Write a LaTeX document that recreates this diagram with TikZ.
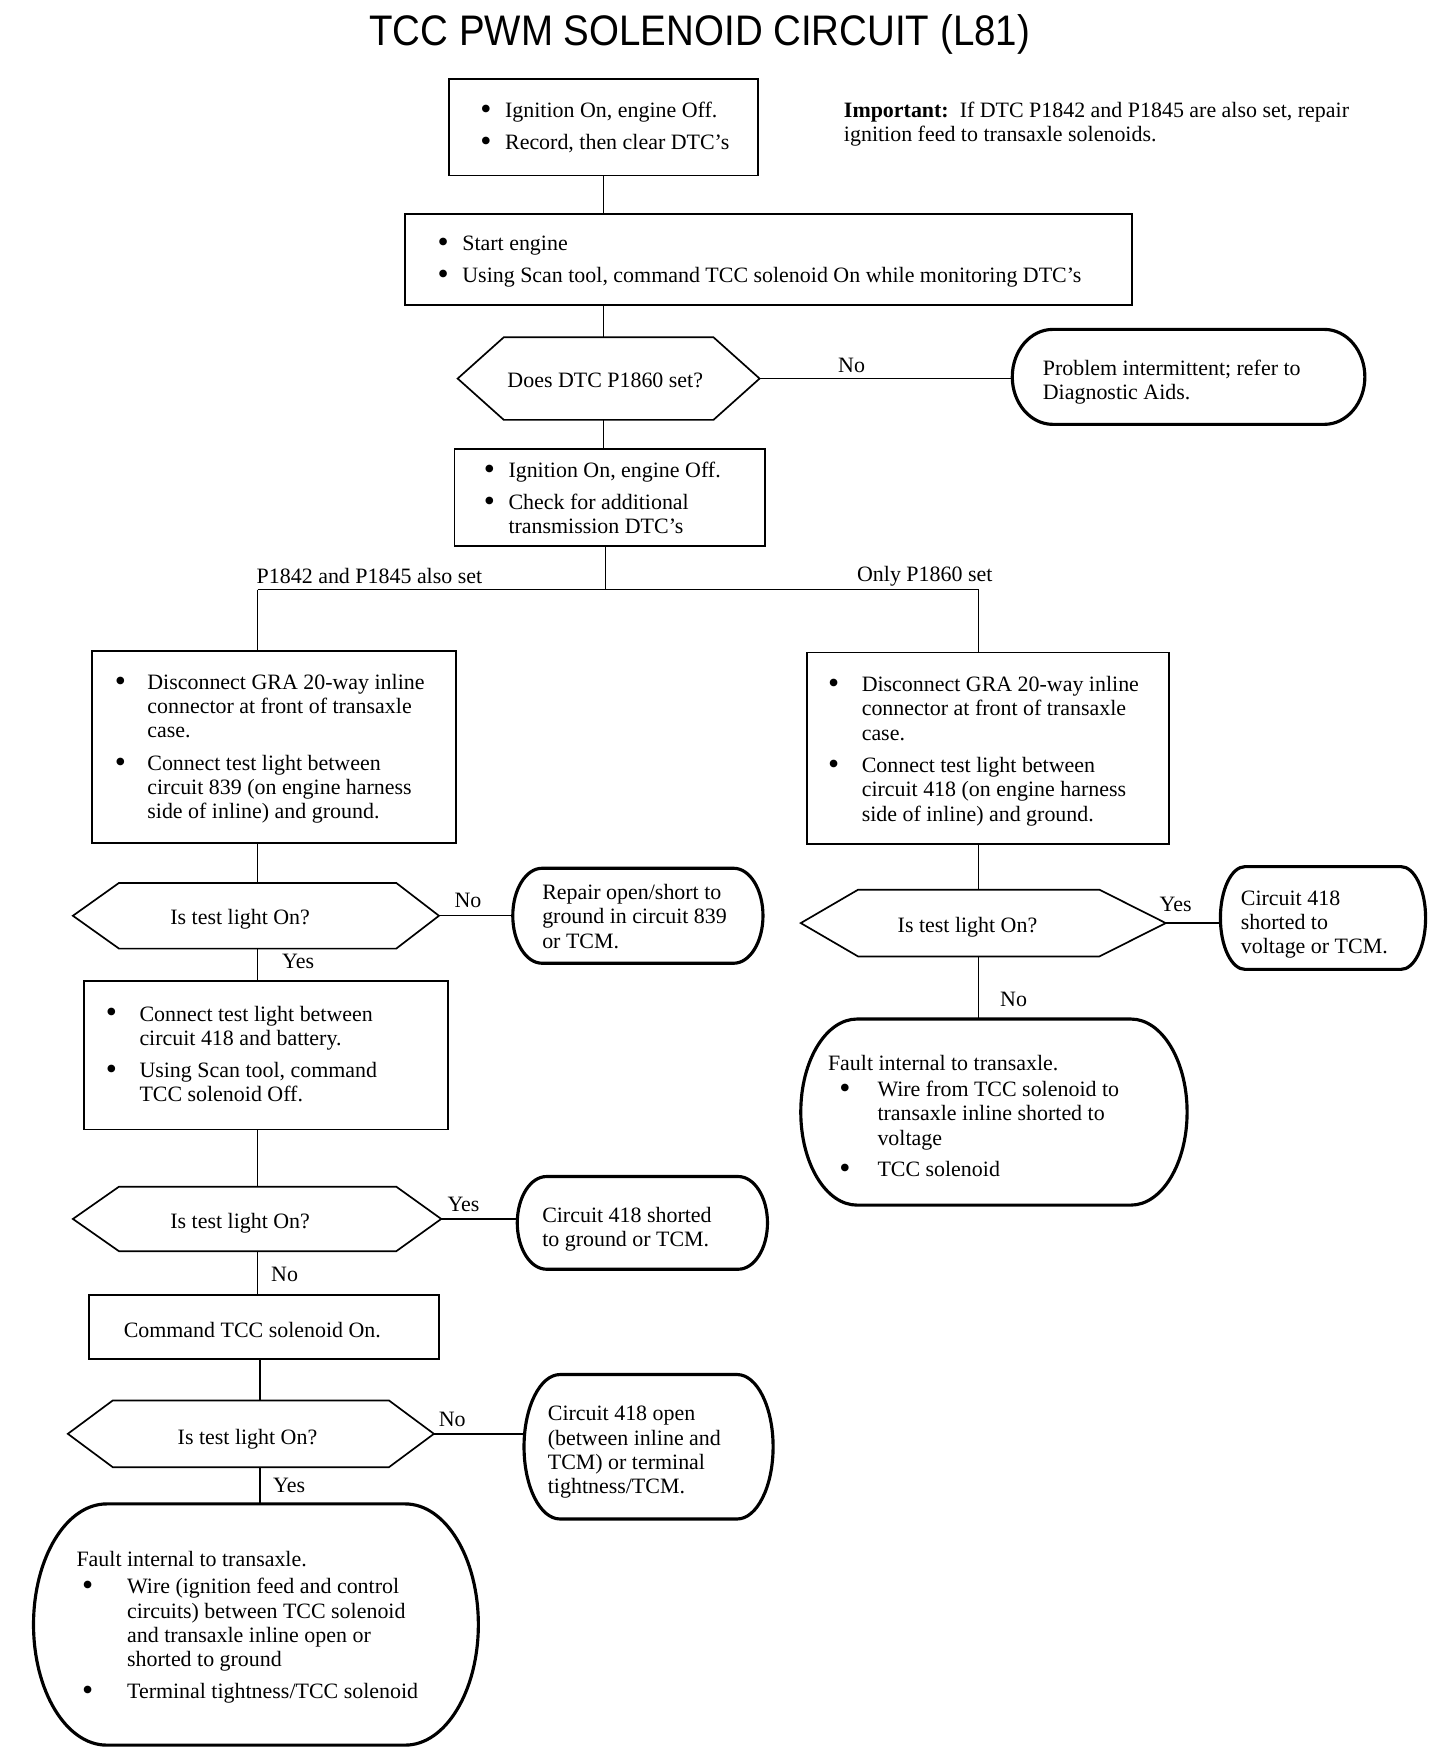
\documentclass[tikz,border=0pt]{standalone}
\usepackage{graphicx}
\usepackage{fontspec}
\setmainfont{Liberation Serif}[Ligatures=TeX]
\newfontfamily\titlefont{Liberation Sans}
\usetikzlibrary{calc}
\newcommand\bodyfont{\fontsize{19.5pt}{21.5pt}\selectfont}
\newcommand\bul{\raisebox{-0.09em}{\scalebox{1.45}{\textbullet}}}
% lower the content of a node by #1 pt without changing its size
\newcommand\dn[2]{\raisebox{-#1pt}[\height][\depth]{#2}}
% outline of a stadium-like node: #1 name, #2 end bulge
\newcommand\stadout[2]{%
  \draw[stadline] ($(#1.north west)+(#2,0)$) -- ($(#1.north east)+(-#2,0)$)
    .. controls ($(#1.north east)+(-0.4477*#2,0)$) and ($(#1.east)!0.5523!(#1.north east)$) .. (#1.east)
    .. controls ($(#1.east)!0.5523!(#1.south east)$) and ($(#1.south east)+(-0.4477*#2,0)$) .. ($(#1.south east)+(-#2,0)$)
    -- ($(#1.south west)+(#2,0)$)
    .. controls ($(#1.south west)+(0.4477*#2,0)$) and ($(#1.west)!0.5523!(#1.south west)$) .. (#1.west)
    .. controls ($(#1.west)!0.5523!(#1.north west)$) and ($(#1.north west)+(0.4477*#2,0)$) .. cycle;}
% outline of a hexagon decision node: #1 name, #2 left tip, #3 right tip
\newcommand\hexout[3]{%
  \coordinate (#1-l) at ($(#1.west)+(-#2,0)$);
  \coordinate (#1-r) at ($(#1.east)+(#3,0)$);
  \draw[hexline] (#1.north west) -- (#1.north east) -- (#1-r) -- (#1.south east) -- (#1.south west) -- (#1-l) -- cycle;}
\begin{document}
\begin{tikzpicture}[x=1pt,y=-1pt,
  every node/.style={font=\bodyfont, inner sep=0pt},
  rectbox/.style={draw, line width=1.7pt},
  shapebox/.style={draw=none},
  conn/.style={line width=1.3pt},
  hexline/.style={line width=1.5pt, line join=miter},
  stadline/.style={line width=2.8pt},
  lbl/.style={}]
\fill[white] (0,0) rectangle (1294,1568);
\useasboundingbox (0,0) rectangle (1294,1568);

% title
\node (title) at (622,31) {\titlefont\fontsize{38pt}{40pt}\selectfont\scalebox{0.9}[1]{TCC PWM SOLENOID CIRCUIT (L81)}};

% important note
\node[lbl, anchor=west, align=left] (imp) at (750,110) {\textbf{Important:}\ \ If DTC P1842 and P1845 are also set, repair\\ignition feed to transaxle solenoids.};

% top chain
\node[rectbox, minimum width=275pt, minimum height=86pt] (b1) at (536.5,113)
  {\dn{1}{\makebox[219pt][l]{\begin{tabular}{@{}p{22pt}@{}l@{}}\bul & Ignition On, engine Off.\\[7pt]\bul & Record, then clear DTC's\end{tabular}}}};
\node[rectbox, minimum width=646pt, minimum height=81pt] (b2) at (683,230.5)
  {\dn{2}{\makebox[588pt][l]{\begin{tabular}{@{}p{22pt}@{}l@{}}\bul & Start engine\\[6.5pt]\bul & Using Scan tool, command TCC solenoid On while monitoring DTC's\end{tabular}}}};
\node[shapebox, minimum width=186pt, minimum height=73pt] (d1) at (541,336.5) {\dn{2}{\hspace*{-6pt}Does DTC P1860 set?}};
\hexout{d1}{41}{41}
\node[shapebox, minimum width=313pt, minimum height=84pt] (s1) at (1056.5,335)
  {\dn{5}{\makebox[259pt][l]{\begin{tabular}{@{}l@{}}Problem intermittent; refer to\\Diagnostic Aids.\end{tabular}}}};
\stadout{s1}{36}
\node[rectbox, minimum width=276pt, minimum height=86pt] (b3) at (542,442)
  {\dn{3}{\makebox[224pt][l]{\begin{tabular}{@{}p{22pt}@{}l@{}}\bul & Ignition On, engine Off.\\[6.5pt]\bul & Check for additional\\ & transmission DTC's\end{tabular}}}};

% left branch
\node[rectbox, minimum width=323pt, minimum height=170pt] (b4) at (243.5,664)
  {\dn{2}{\makebox[283pt][l]{\begin{tabular}{@{}p{29pt}@{}l@{}}\bul & Disconnect GRA 20-way inline\\ & connector at front of transaxle\\ & case.\\[7.5pt]\bul & Connect test light between\\ & circuit 839 (on engine harness\\ & side of inline) and ground.\end{tabular}}}};
\node[shapebox, minimum width=246pt, minimum height=58pt] (d2) at (229,814) {\dn{3}{\hspace*{-31pt}Is test light On?}};
\hexout{d2}{41}{38}
\node[shapebox, minimum width=222pt, minimum height=84pt] (s2) at (567,814)
  {\dn{3}{\makebox[170pt][l]{\begin{tabular}{@{}l@{}}Repair open/short to\\ground in circuit 839\\or TCM.\end{tabular}}}};
\stadout{s2}{26}
\node[rectbox, minimum width=323pt, minimum height=132pt] (b6) at (236.5,938)
  {\dn{1}{\makebox[285pt][l]{\begin{tabular}{@{}p{30pt}@{}l@{}}\bul & Connect test light between\\ & circuit 418 and battery.\\[7pt]\bul & Using Scan tool, command\\ & TCC solenoid Off.\end{tabular}}}};
\node[shapebox, minimum width=246pt, minimum height=57pt] (d3) at (229,1083.5) {\dn{4}{\hspace*{-31pt}Is test light On?}};
\hexout{d3}{41}{40}
\node[shapebox, minimum width=222pt, minimum height=82pt] (s3) at (571,1087)
  {\dn{6}{\makebox[178pt][l]{\begin{tabular}{@{}l@{}}Circuit 418 shorted\\to ground or TCM.\end{tabular}}}};
\stadout{s3}{26}
\node[rectbox, minimum width=311pt, minimum height=57pt] (b7) at (234.5,1179.5)
  {\dn{3}{\makebox[249pt][l]{Command TCC solenoid On.}}};
\node[shapebox, minimum width=245pt, minimum height=59pt] (d4) at (223,1274.5) {\dn{5}{\hspace*{-6pt}Is test light On?}};
\hexout{d4}{40}{40}
\node[shapebox, minimum width=221pt, minimum height=128pt] (s4) at (576.5,1286)
  {\dn{5}{\makebox[179pt][l]{\begin{tabular}{@{}l@{}}Circuit 418 open\\(between inline and\\TCM) or terminal\\tightness/TCM.\end{tabular}}}};
\stadout{s4}{32}
\node[shapebox, minimum width=395pt, minimum height=214pt] (s5) at (227.5,1444)
  {\dn{3}{\makebox[319pt][l]{\begin{tabular}{@{}p{45pt}@{}l@{}}\multicolumn{2}{@{}l@{}}{Fault internal to transaxle.}\\[2.5pt]\hspace*{5pt}\bul & Wire (ignition feed and control\\ & circuits) between TCC solenoid\\ & and transaxle inline open or\\ & shorted to ground\\[7pt]\hspace*{5pt}\bul & Terminal tightness/TCC solenoid\end{tabular}}}};
\stadout{s5}{65}

% right branch
\node[rectbox, minimum width=322pt, minimum height=170pt] (b5) at (878,665)
  {\dn{3}{\makebox[284pt][l]{\begin{tabular}{@{}p{30pt}@{}l@{}}\bul & Disconnect GRA 20-way inline\\ & connector at front of transaxle\\ & case.\\[7.5pt]\bul & Connect test light between\\ & circuit 418 (on engine harness\\ & side of inline) and ground.\end{tabular}}}};
\node[shapebox, minimum width=214pt, minimum height=59pt] (d5) at (870,820.5) {\dn{4}{\hspace*{-20pt}Is test light On?}};
\hexout{d5}{51}{59}
\node[shapebox, minimum width=182pt, minimum height=91pt] (s6) at (1176,816)
  {\dn{6}{\makebox[146pt][l]{\begin{tabular}{@{}l@{}}Circuit 418\\shorted to\\voltage or TCM.\end{tabular}}}};
\stadout{s6}{22}
\node[shapebox, minimum width=343pt, minimum height=165pt] (s7) at (883.5,988.5)
  {\dn{6}{\makebox[295pt][l]{\begin{tabular}{@{}p{44pt}@{}l@{}}\multicolumn{2}{@{}l@{}}{Fault internal to transaxle.}\\[1.5pt]\hspace*{10pt}\bul & Wire from TCC solenoid to\\ & transaxle inline shorted to\\ & voltage\\[6.5pt]\hspace*{10pt}\bul & TCC solenoid\end{tabular}}}};
\stadout{s7}{50}

% connectors
\coordinate (j) at (538,524);
\coordinate (jl) at (d2.north |- j);
\coordinate (jr) at (d5.north |- j);
\coordinate (c4) at (231,1240);
\draw[conn] (b1.south) -- (b1.south |- b2.north);
\draw[conn] (b1.south |- b2.south) -- (b1.south |- d1.north);
\draw[conn] (d1-r) -- (d1-r -| s1.west);
\draw[conn] (b1.south |- d1.south) -- (b1.south |- b3.north);
\draw[conn] (j |- b3.south) -- (j);
\draw[conn] (jl) -- (jr);
\draw[conn] (jl) -- (jl |- b4.north);
\draw[conn] (jr) -- (jr |- b5.north);
\draw[conn] (d2.north |- b4.south) -- (d2.north);
\draw[conn] (d2-r) -- (d2-r -| s2.west);
\draw[conn] (d2.south) -- (d2.south |- b6.north);
\draw[conn] (d3.north |- b6.south) -- (d3.north);
\draw[conn] (d3-r) -- (d3-r -| s3.west);
\draw[conn] (d3.south) -- (d3.south |- b7.north);
\draw[conn] (c4 |- b7.south) -- (c4 |- d4.north);
\draw[conn] (d4-r) -- (d4-r -| s4.west);
\draw[conn] (c4 |- d4.south) -- (c4 |- s5.north);
\draw[conn] (d5.north |- b5.south) -- (d5.north);
\draw[conn] (d5-r) -- (d5-r -| s6.west);
\draw[conn] (d5.south) -- (d5.south |- s7.north);

% branch labels
\node[lbl] (l1) at (757,325) {No};
\node[lbl, anchor=west] (l2) at (228,512) {P1842 and P1845 also set};
\node[lbl] (l3) at (822,512) {Only P1860 set};
\node[lbl] (l4) at (416,800) {No};
\node[lbl] (l5) at (265,855) {Yes};
\node[lbl] (l6) at (412,1071) {Yes};
\node[lbl] (l7) at (253,1133) {No};
\node[lbl] (l8) at (402,1262) {No};
\node[lbl] (l9) at (257,1320) {Yes};
\node[lbl] (l10) at (1045,804) {Yes};
\node[lbl] (l11) at (901,888) {No};
\end{tikzpicture}
\end{document}
